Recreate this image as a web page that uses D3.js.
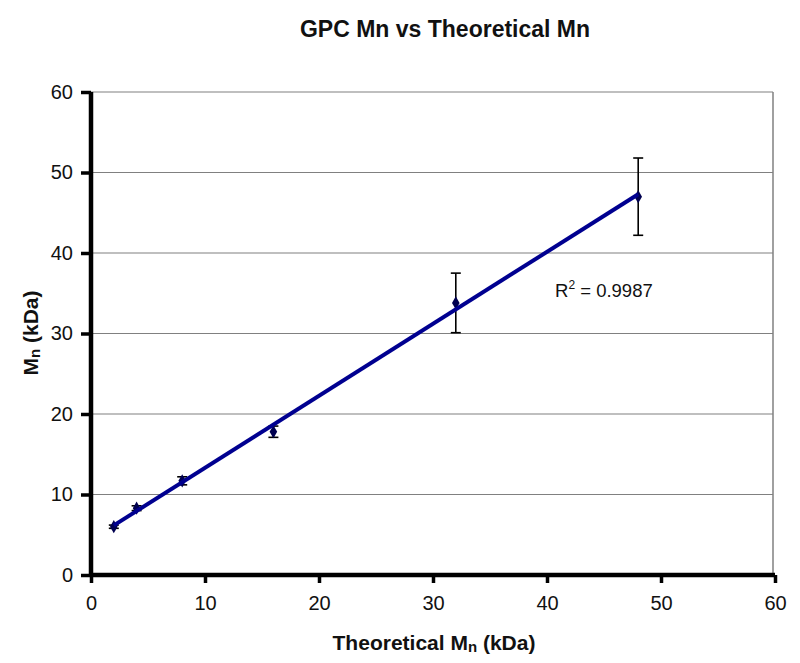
<!DOCTYPE html>
<html>
<head>
<meta charset="utf-8">
<script src="https://cdn.jsdelivr.net/npm/d3@7"></script>
<style>
  html, body { margin: 0; padding: 0; background: #fff; }
  svg { display: block; font-family: "Liberation Sans", Arial, Helvetica, sans-serif; }
</style>
</head>
<body>
<svg id="chart" width="800" height="663"></svg>
<script>
// ---- data ----
const theoreticalMn = [2, 4, 8, 16, 32, 48];
const gpcMn = [6.0, 8.3, 11.7, 17.8, 33.8, 47.0];
const gpcErr = [0.2, 0.3, 0.5, 0.7, 3.7, 4.8];
const xTicks = [0, 10, 20, 30, 40, 50, 60];
const yTicks = [0, 10, 20, 30, 40, 50, 60];
const titleText = "GPC Mn vs Theoretical Mn";
const r2Label = "0.9987";

// ---- layout ----
const svg = d3.select("#chart");
const L = 91, R = 775, T = 92, B = 575;
const x = d3.scaleLinear().domain([0, 60]).range([L, R]);
const y = d3.scaleLinear().domain([0, 60]).range([B, T]);

// gridlines
svg.append("g")
  .selectAll("line").data(yTicks.filter(d => d > 0))
  .join("line")
  .attr("x1", L).attr("x2", R - 2)
  .attr("y1", d => y(d)).attr("y2", d => y(d))
  .attr("stroke", "#808080").attr("stroke-width", 1.2);

// right border
svg.append("line")
  .attr("x1", R - 2).attr("x2", R - 2).attr("y1", T).attr("y2", B)
  .attr("stroke", "#808080").attr("stroke-width", 1.5);

// axes
const xAxis = d3.axisBottom(x).tickValues(xTicks).tickSize(8).tickPadding(13).tickFormat(d3.format("d"));
const yAxis = d3.axisLeft(y).tickValues(yTicks).tickSize(10).tickPadding(8).tickFormat(d3.format("d"));

const gx = svg.append("g").attr("transform", `translate(0,${B})`).call(xAxis);
const gy = svg.append("g").attr("transform", `translate(${L},0)`).call(yAxis);

[gx, gy].forEach(g => {
  g.select(".domain").attr("stroke", "#000").attr("stroke-width", 4.5);
  g.selectAll(".tick line").attr("stroke", "#000").attr("stroke-width", 3.5);
  g.selectAll(".tick text").attr("fill", "#111").style("font-size", "20px")
    .style("font-family", "'Liberation Sans', Arial, sans-serif");
});
gx.select(".domain").attr("d", `M${L},0H${R}`);
gy.select(".domain").attr("d", `M0,${T}V${B}`);

// trendline via least squares
const n = theoreticalMn.length;
const mx = d3.mean(theoreticalMn), my = d3.mean(gpcMn);
let sxy = 0, sxx = 0;
for (let i = 0; i < n; i++) {
  sxy += (theoreticalMn[i] - mx) * (gpcMn[i] - my);
  sxx += (theoreticalMn[i] - mx) ** 2;
}
const slope = sxy / sxx, icpt = my - slope * mx;
const x0 = d3.min(theoreticalMn), x1 = d3.max(theoreticalMn);

// error bars
const eb = svg.append("g").attr("stroke", "#000").attr("stroke-width", 1.6);
theoreticalMn.forEach((t, i) => {
  const cx = x(t), y1 = y(gpcMn[i] + gpcErr[i]), y2 = y(gpcMn[i] - gpcErr[i]);
  eb.append("line").attr("x1", cx).attr("x2", cx).attr("y1", y1).attr("y2", y2);
  eb.append("line").attr("x1", cx - 5).attr("x2", cx + 5).attr("y1", y1).attr("y2", y1);
  eb.append("line").attr("x1", cx - 5).attr("x2", cx + 5).attr("y1", y2).attr("y2", y2);
});

// markers
svg.append("g").selectAll("path").data(theoreticalMn)
  .join("path")
  .attr("d", d3.symbol().type(d3.symbolDiamond).size(50))
  .attr("transform", (d, i) => `translate(${x(d)},${y(gpcMn[i])})`)
  .attr("fill", "#000050");

svg.append("line")
  .attr("x1", x(x0)).attr("y1", y(slope * x0 + icpt))
  .attr("x2", x(x1)).attr("y2", y(slope * x1 + icpt))
  .attr("stroke", "#000090").attr("stroke-width", 4);

// R² label
const rt = svg.append("text").attr("x", 555).attr("y", 297)
  .attr("fill", "#111").style("font-size", "18.5px");
rt.append("tspan").text("R");
rt.append("tspan").attr("dy", -8).style("font-size", "12px").text("2");
rt.append("tspan").attr("dy", 8).text(" = " + r2Label);

// title
svg.append("text").attr("x", 445).attr("y", 37).attr("text-anchor", "middle")
  .style("font-size", "23px").style("font-weight", "bold").attr("fill", "#111")
  .text(titleText);

// x axis title
const xt = svg.append("text").attr("x", 434).attr("y", 650).attr("text-anchor", "middle")
  .style("font-size", "21px").style("font-weight", "bold").attr("fill", "#111");
xt.append("tspan").text("Theoretical M");
xt.append("tspan").attr("dy", 2).style("font-size", "15px").text("n");
xt.append("tspan").attr("dy", -2).text(" (kDa)");

// y axis title
const yt = svg.append("text").attr("transform", "translate(38,333) rotate(-90)")
  .attr("text-anchor", "middle")
  .style("font-size", "21px").style("font-weight", "bold").attr("fill", "#111");
yt.append("tspan").text("M");
yt.append("tspan").attr("dy", 2).style("font-size", "15px").text("n");
yt.append("tspan").attr("dy", -2).text(" (kDa)");
</script>
</body>
</html>
